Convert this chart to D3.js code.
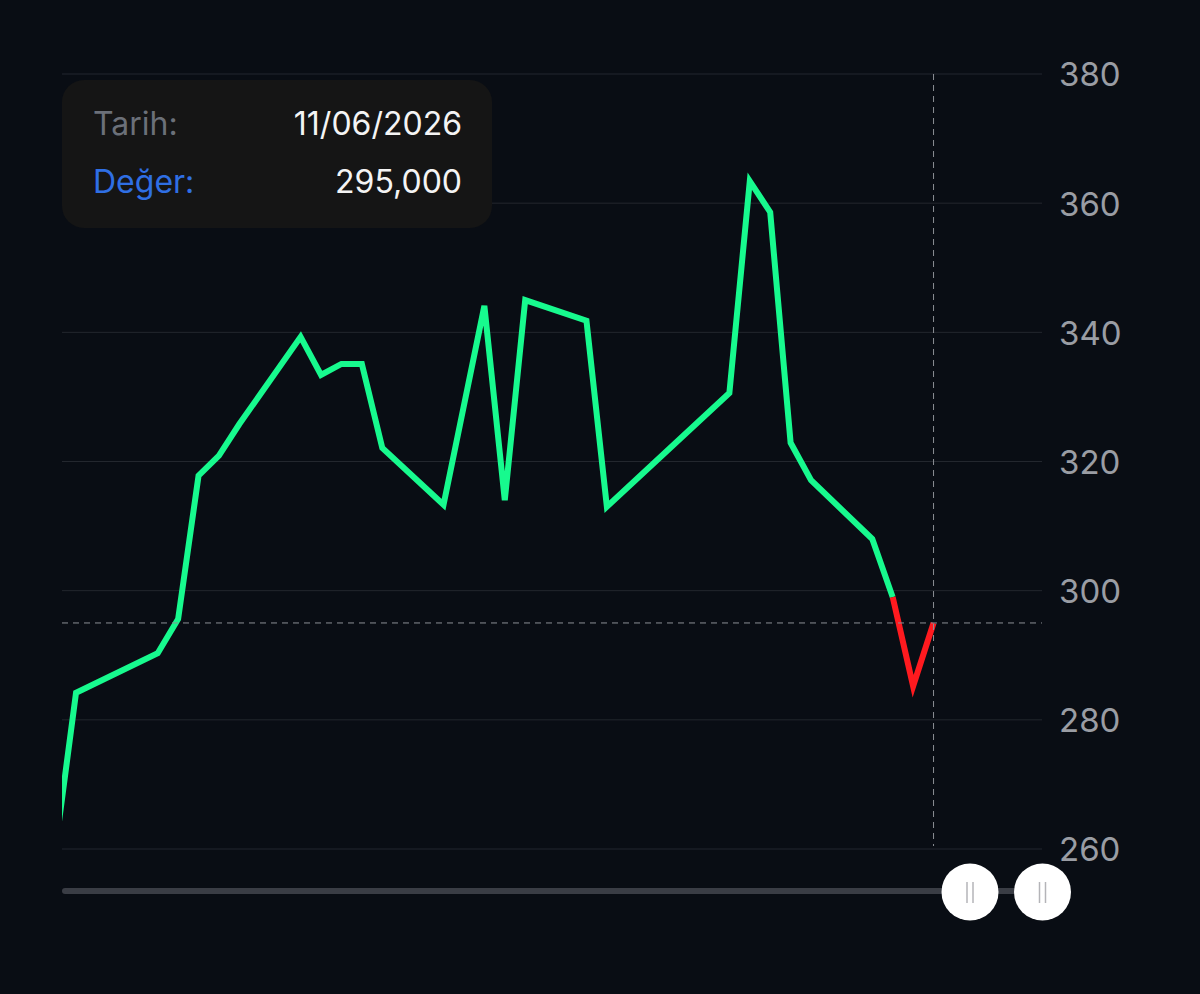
<!DOCTYPE html>
<html>
<head>
<meta charset="utf-8">
<script src="https://cdn.jsdelivr.net/npm/d3@7"></script>
<style>
  html, body { margin: 0; padding: 0; background: #090d14; }
  svg { display: block; }
</style>
</head>
<body>
<svg id="chart" width="1200" height="994"></svg>
<script>
// ---- data ----
const dates = [
  "2026-04-29", "2026-04-30", "2026-05-04", "2026-05-05", "2026-05-06", "2026-05-07",
  "2026-05-08", "2026-05-11", "2026-05-12", "2026-05-13", "2026-05-14", "2026-05-15",
  "2026-05-18", "2026-05-20", "2026-05-21", "2026-05-22", "2026-05-25", "2026-05-26",
  "2026-06-01", "2026-06-02", "2026-06-03", "2026-06-04", "2026-06-05", "2026-06-08",
  "2026-06-09", "2026-06-10", "2026-06-11"
];
const values = [
  260.3, 284.2, 290.3, 295.6, 317.8, 320.9,
  325.8, 339.3, 333.4, 335.1, 335.1, 322.1,
  313.3, 344.1, 314.0, 345.0, 341.8, 313.0,
  330.6, 363.4, 358.6, 322.9, 317.1, 308.0,
  299.0, 285.2, 295.0
];
const yTicks = [260, 280, 300, 320, 340, 360, 380];
const visibleRange = ["2026-04-29T07:30", "2026-06-16T07:30"];
const redFromDate = "2026-06-09";
const tooltipLabels = ["Tarih:", "Değer:"];
const selectedIndex = dates.length - 1;

// ---- setup ----
const parse = d3.utcParse("%Y-%m-%d");
const parseT = d3.utcParse("%Y-%m-%dT%H:%M");
const data = dates.map((d, i) => ({ date: parse(d), value: values[i] }));
const redFrom = parse(redFromDate);

const svg = d3.select("#chart");
const pL = 62, pR = 1042, pT = 74, pB = 849;

svg.append("rect").attr("width", 1200).attr("height", 994).attr("fill", "#090d14");

const x = d3.scaleUtc().domain(visibleRange.map(parseT)).range([pL, pR]);
const y = d3.scaleLinear().domain([260, 380]).range([pB, pT]);

// grid
svg.append("g").selectAll("line").data(yTicks).join("line")
  .attr("x1", pL).attr("x2", pR)
  .attr("y1", d => y(d)).attr("y2", d => y(d))
  .attr("stroke", "#23272e").attr("stroke-width", 1);

// y axis labels
const yAxis = d3.axisRight(y).tickValues(yTicks).tickSize(0).tickPadding(0);
const gy = svg.append("g").attr("transform", `translate(1059,0)`).call(yAxis);
gy.select(".domain").remove();
gy.selectAll("text")
  .attr("fill", "#9a9da4")
  .attr("font-family", "Inter, 'Noto Sans', sans-serif")
  .attr("font-size", 33)
  .attr("dy", "0.36em");

// clip
svg.append("clipPath").attr("id", "clip").append("rect")
  .attr("x", pL).attr("y", 0).attr("width", pR - pL).attr("height", 994);

// line: green part and red tail
const lineG = svg.append("g").attr("clip-path", "url(#clip)");
const line = d3.line().x(d => x(d.date)).y(d => y(d.value));
const greenPts = data.filter(d => d.date <= redFrom);
const redPts = data.filter(d => d.date >= redFrom);
lineG.selectAll("path").data([
  { pts: greenPts, c: "#17fa8e" },
  { pts: redPts, c: "#ff1a1f" }
]).join("path")
  .attr("d", g => line(g.pts))
  .attr("fill", "none")
  .attr("stroke", g => g.c)
  .attr("stroke-width", 6)
  .attr("stroke-linejoin", "miter")
  .attr("stroke-linecap", "butt");

// crosshair
const sel = data[selectedIndex];
svg.append("line")
  .attr("x1", x(sel.date)).attr("x2", x(sel.date))
  .attr("y1", pT).attr("y2", 846)
  .attr("stroke", "#8c8f95").attr("stroke-width", 1).attr("stroke-dasharray", "6,5");
svg.append("line")
  .attr("x1", pL).attr("x2", pR)
  .attr("y1", y(sel.value)).attr("y2", y(sel.value))
  .attr("stroke", "#8c8f95").attr("stroke-width", 1).attr("stroke-dasharray", "6,5");

// tooltip
const tr = d3.formatLocale({ decimal: ",", thousands: ".", grouping: [3], currency: ["", " ₺"] });
const tip = svg.append("g");
tip.append("rect").attr("x", 62).attr("y", 80).attr("width", 430).attr("height", 148)
  .attr("rx", 22).attr("fill", "#151515");
const fmtDate = d3.utcFormat("%d/%m/%Y");
const fmtVal = tr.format(".3f");
const font = "Inter, 'Noto Sans', sans-serif";
tip.append("text").attr("x", 93).attr("y", 135).text(tooltipLabels[0])
  .attr("fill", "#6b7079").attr("font-family", font).attr("font-size", 32);
tip.append("text").attr("x", 462).attr("y", 135).attr("text-anchor", "end").text(fmtDate(sel.date))
  .attr("fill", "#f4f4f4").attr("font-family", font).attr("font-size", 32);
tip.append("text").attr("x", 93).attr("y", 193).text(tooltipLabels[1])
  .attr("fill", "#2f6fe4").attr("font-family", font).attr("font-size", 32);
tip.append("text").attr("x", 462).attr("y", 193).attr("text-anchor", "end").text(fmtVal(sel.value))
  .attr("fill", "#f4f4f4").attr("font-family", font).attr("font-size", 32);

// slider
const sl = svg.append("g");
sl.append("rect").attr("x", 62).attr("y", 888).attr("width", 980).attr("height", 6)
  .attr("rx", 3).attr("fill", "#3a3d45");
[970, 1042.5].forEach(cx => {
  const h = sl.append("g");
  h.append("circle").attr("cx", cx).attr("cy", 892).attr("r", 28.5).attr("fill", "#ffffff");
  [-3, 3].forEach(dx => {
    h.append("line").attr("x1", cx + dx).attr("x2", cx + dx).attr("y1", 882).attr("y2", 903)
      .attr("stroke", "#b4b4b8").attr("stroke-width", 1.5);
  });
});
</script>
</body>
</html>
